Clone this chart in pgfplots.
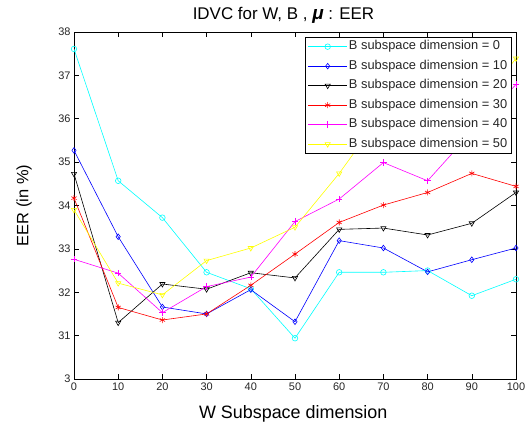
\documentclass[border=0pt]{standalone}
\usepackage{fontspec}
\setmainfont{Liberation Sans}
\usepackage{pgfplots}
\pgfplotsset{compat=1.18}
\definecolor{mcyan}{rgb}{0,1,1}
\definecolor{mblue}{rgb}{0,0,1}
\definecolor{mred}{rgb}{1,0,0}
\definecolor{mmag}{rgb}{1,0,1}
\definecolor{myel}{rgb}{1,1,0}
\pgfplotsset{mylegend/.style={legend image code/.code={\draw[mark repeat=2,mark phase=2,##1] plot coordinates {(0bp,0bp) (19.5bp,0bp) (39bp,0bp)};}}}
\begin{document}
\begin{tikzpicture}
\useasboundingbox (0,0) rectangle (531bp,425bp);
\begin{axis}[
  at={(74bp,46bp)}, anchor=south west,
  scale only axis, width=442bp, height=347bp,
  xmin=0, xmax=100, ymin=30, ymax=38,
  xtick={0,10,...,100}, ytick={30,31,...,38},
  yticklabels={3,31,32,33,34,35,36,37,38},
  tick align=inside, major tick length=5bp,
  tick style={black, line width=0.6bp},
  axis line style={black, line width=0.8bp},
  /pgf/number format/assume math mode=true,
  ticklabel style={font=\fontsize{11}{13}\selectfont, text=black!85},
  title={IDVC for W, B , {\fontsize{19}{20}\selectfont\textbf{\textit{μ}}} : EER},
  title style={font=\fontsize{17}{20}\selectfont, at={(axis description cs:0.474,1)}, anchor=base, yshift=6.7bp},
  xlabel={W Subspace dimension},
  xlabel style={font=\fontsize{18}{20}\selectfont, at={(axis description cs:0.496,-0.1124)}, anchor=base},
  ylabel={EER (in \%)},
  ylabel style={font=\fontsize{16.5}{18}\selectfont, at={(axis description cs:-0.113,0.5)}, anchor=center},
  legend style={at={(axis description cs:0.991,0.986)}, anchor=north east, draw=black, fill=white, line width=0.6bp,
    font=\fontsize{12.9}{14}\selectfont, row sep=4.5bp,
    nodes={inner sep=1.5bp, text height=9bp, text depth=3bp, text=black!85}},
  legend cell align=left,
  every axis plot/.append style={line width=0.6bp},
]
\addplot[mcyan, mark=o, mark size=2.8bp, mylegend] coordinates {(0,37.61)(10,34.57)(20,33.72)(30,32.46)(40,32.08)(50,30.94)(60,32.46)(70,32.46)(80,32.5)(90,31.92)(100,32.3)};
\addlegendentry{B subspace dimension = 0}
\addplot[mblue, mark=diamond, mark size=2.8bp, mylegend] coordinates {(0,35.27)(10,33.28)(20,31.66)(30,31.5)(40,32.06)(50,31.32)(60,33.19)(70,33.02)(80,32.47)(90,32.75)(100,33.02)};
\addlegendentry{B subspace dimension = 10}
\addplot[black, mark=triangle, mark size=3bp, mark options={rotate=180}, mylegend] coordinates {(0,34.73)(10,31.3)(20,32.19)(30,32.07)(40,32.45)(50,32.33)(60,33.45)(70,33.48)(80,33.32)(90,33.59)(100,34.3)};
\addlegendentry{B subspace dimension = 20}
\addplot[mred, mark=asterisk, mark size=3bp, mylegend] coordinates {(0,34.17)(10,31.65)(20,31.36)(30,31.5)(40,32.16)(50,32.88)(60,33.61)(70,34.01)(80,34.3)(90,34.74)(100,34.44)};
\addlegendentry{B subspace dimension = 30}
\addplot[mmag, mark=+, mark size=3.2bp, mylegend] coordinates {(0,32.76)(10,32.44)(20,31.53)(30,32.13)(40,32.35)(50,33.63)(60,34.15)(70,34.99)(80,34.57)(90,35.7)(100,36.79)};
\addlegendentry{B subspace dimension = 40}
\addplot[myel, mark=triangle, mark size=3bp, mark options={rotate=180}, mylegend] coordinates {(0,33.9)(10,32.21)(20,31.94)(30,32.73)(40,33.02)(50,33.5)(60,34.74)(70,36.15)(80,36.5)(90,36.1)(100,37.39)};
\addlegendentry{B subspace dimension = 50}
\end{axis}
\end{tikzpicture}
\end{document}
